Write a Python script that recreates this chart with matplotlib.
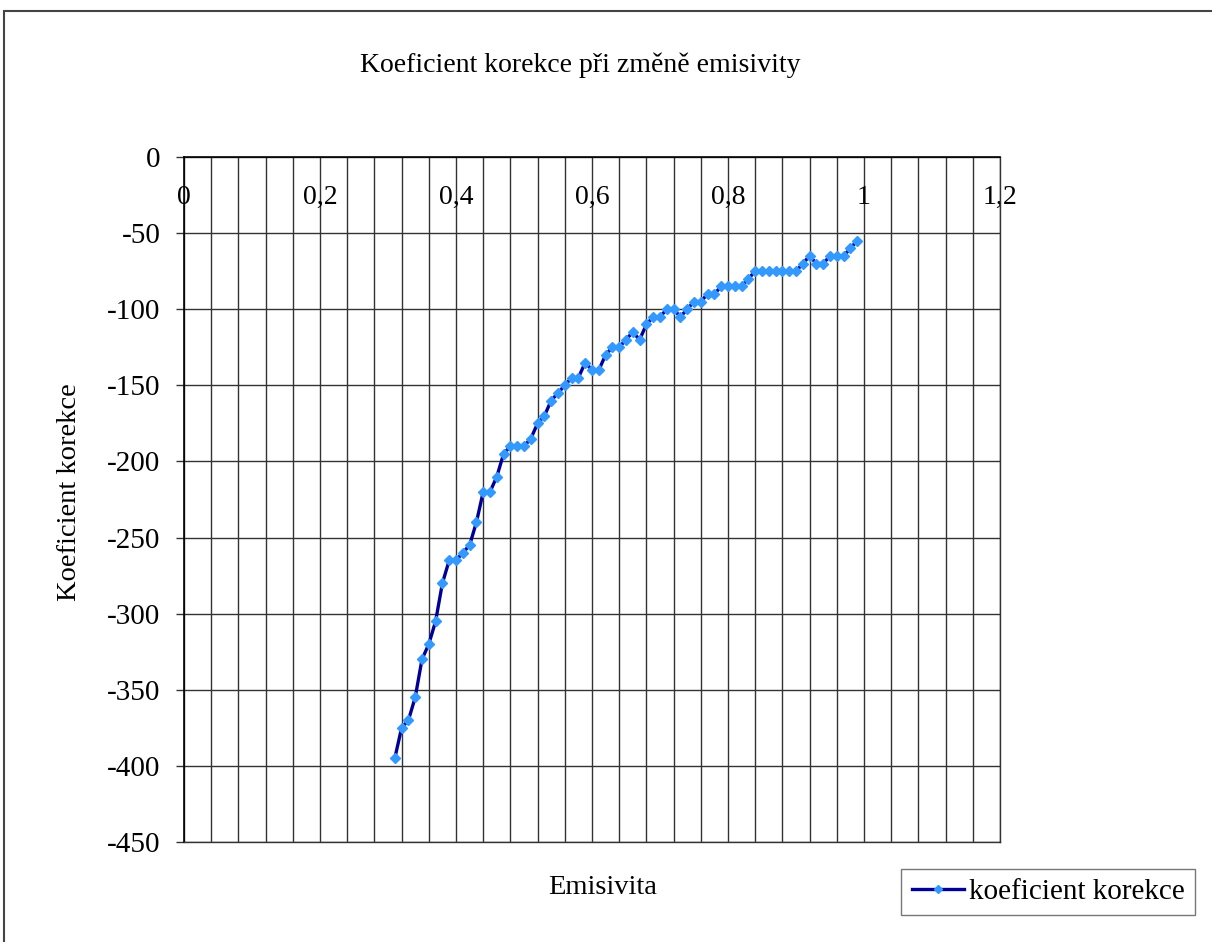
import numpy as np
import matplotlib
matplotlib.use("Agg")
import matplotlib.pyplot as plt
from matplotlib.patches import Rectangle
from matplotlib.ticker import MultipleLocator, FixedLocator, FuncFormatter

plt.rcParams['font.family'] = ['Liberation Serif', 'DejaVu Serif']

# emisivita 0,31 .. 0,99
emisivita = [0.31, 0.32, 0.33, 0.34, 0.35, 0.36, 0.37, 0.38, 0.39, 0.40,
             0.41, 0.42, 0.43, 0.44, 0.45, 0.46, 0.47, 0.48, 0.49, 0.50,
             0.51, 0.52, 0.53, 0.54, 0.55, 0.56, 0.57, 0.58, 0.59, 0.60,
             0.61, 0.62, 0.63, 0.64, 0.65, 0.66, 0.67, 0.68, 0.69, 0.70,
             0.71, 0.72, 0.73, 0.74, 0.75, 0.76, 0.77, 0.78, 0.79, 0.80,
             0.81, 0.82, 0.83, 0.84, 0.85, 0.86, 0.87, 0.88, 0.89, 0.90,
             0.91, 0.92, 0.93, 0.94, 0.95, 0.96, 0.97, 0.98, 0.99]
koeficient = [-395, -375, -370, -355, -330, -320, -305, -280, -265, -265,
              -260, -255, -240, -220, -220, -210, -195, -190, -190, -190,
              -185, -175, -170, -160, -155, -150, -145, -145, -135, -140,
              -140, -130, -125, -125, -120, -115, -120, -110, -105, -105,
              -100, -100, -105, -100, -95, -95, -90, -90, -85, -85,
              -85, -85, -80, -75, -75, -75, -75, -75, -75, -75,
              -70, -65, -70, -70, -65, -65, -65, -60, -55]

W, H = 1212, 942
fig = plt.figure(figsize=(W / 100, H / 100), dpi=100)
fig.patch.set_facecolor('white')

# ramecek grafu
fig.patches.append(Rectangle((4 / W, -0.05), 1.1, 1 - 11 / H + 0.05,
                             transform=fig.transFigure, fill=False,
                             edgecolor='#444444', linewidth=1.5))

ax = fig.add_axes([184 / W, 1 - 842 / H, 816 / W, 685 / H])
ax.set_xlim(0, 1.2)
ax.set_ylim(-450, 0)

ax.plot(emisivita, koeficient, color='#000099', linewidth=2.4,
        marker='D', markersize=5.2, markerfacecolor='#3399FF',
        markeredgecolor='#3399FF', label='koeficient korekce', zorder=3)

# mrizka
ax.xaxis.set_major_locator(MultipleLocator(0.2))
ax.xaxis.set_minor_locator(FixedLocator(np.arange(0, 1.21, 0.04)))
ax.yaxis.set_major_locator(MultipleLocator(50))
ax.grid(True, which='both', axis='x', color='#333333', linewidth=1.0)
ax.grid(True, which='major', axis='y', color='#333333', linewidth=1.0)
ax.set_axisbelow(True)

fmt = FuncFormatter(lambda v, p: ('%g' % round(v, 2)).replace('.', ','))
ax.xaxis.set_major_formatter(fmt)
ax.yaxis.set_major_formatter(FuncFormatter(lambda v, p: '%d' % v))

ax.xaxis.set_ticks_position('top')
ax.tick_params(axis='x', which='both', length=0, pad=-38,
               labeltop=True, labelbottom=False, labelsize=20)
ax.tick_params(axis='y', length=6, width=1.0, color='#333333', pad=11,
               labelsize=21)

for s in ['left', 'top']:
    ax.spines[s].set_color('black')
    ax.spines[s].set_linewidth(1.2)
for s in ['right', 'bottom']:
    ax.spines[s].set_color('#333333')
    ax.spines[s].set_linewidth(1.0)

fig.text(580 / W, 1 - 65 / H, 'Koeficient korekce při změně emisivity',
         ha='center', va='center', fontsize=20)
fig.text(603 / W, 1 - 888 / H, 'Emisivita', ha='center', va='center',
         fontsize=20.5)
fig.text(69 / W, 1 - 492 / H, 'Koeficient korekce', ha='center',
         va='center', rotation=90, fontsize=20.5)

leg = fig.legend(loc='center', bbox_to_anchor=(1048 / W, 1 - 892 / H),
                 fontsize=21, frameon=True, fancybox=False, handlelength=1.8,
                 handletextpad=0.15, borderpad=0.35, borderaxespad=0,
                 markerscale=0.7)
leg.get_frame().set_edgecolor('#555555')
leg.get_frame().set_linewidth(1.0)

fig.savefig('out.png', dpi=100)
